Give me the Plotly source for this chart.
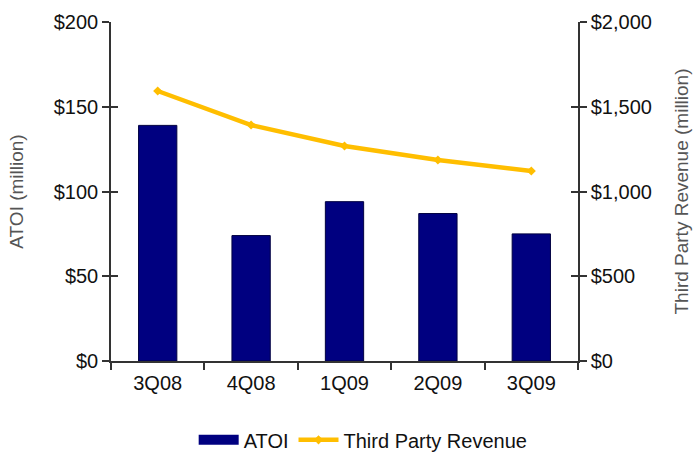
import plotly.graph_objects as go

quarters = ["3Q08", "4Q08", "1Q09", "2Q09", "3Q09"]
atoi = [139, 74, 94, 87, 75]
third_party_revenue = [1593, 1392, 1268, 1186, 1121]

navy = "#000080"
gold = "#FFBE00"
axis_col = "#333333"
font = dict(family="Liberation Sans, Arial, sans-serif", size=20, color="#111111")
title_font = dict(family="Liberation Sans, Arial, sans-serif", size=19, color="#555555")

fig = go.Figure()
fig.add_trace(go.Bar(
    x=quarters, y=atoi, name="ATOI", showlegend=False,
    marker=dict(color=navy, line=dict(color="#000040", width=1)),
    yaxis="y",
))
# wide rectangular legend key for the bars
fig.add_trace(go.Scatter(
    x=[None], y=[None], name="ATOI", mode="lines",
    line=dict(color=navy, width=13), yaxis="y",
))
fig.add_trace(go.Scatter(
    x=quarters, y=third_party_revenue, name="Third Party Revenue",
    mode="lines+markers",
    line=dict(color=gold, width=4.5),
    marker=dict(color=gold, size=7, symbol="diamond"),
    yaxis="y2",
))

common_y = dict(showgrid=False, zeroline=False, showline=True, linecolor=axis_col,
                linewidth=1.5, ticks="outside", ticklen=7, tickcolor=axis_col,
                tickwidth=1.5, tickfont=font, automargin=False)

fig.update_layout(
    width=695, height=453,
    margin=dict(l=111, r=117, t=22, b=92),
    paper_bgcolor="white", plot_bgcolor="white",
    font=font,
    bargap=0.59,
    showlegend=True,
    legend=dict(orientation="h", x=0.54, xanchor="center",
                yref="container", y=0.029, yanchor="middle",
                font=font, itemwidth=40, tracegroupgap=0),
    xaxis=dict(showgrid=False, showline=True, linecolor=axis_col, linewidth=1.5,
               ticks="outside", ticklen=7, tickcolor=axis_col, tickwidth=1.5,
               tickson="boundaries", tickfont=font, ticklabelstandoff=3,
               range=[-0.5, 4.5], automargin=False),
    yaxis=dict(range=[0, 200], dtick=50, tickprefix="$",
               title=dict(text="ATOI (million)", font=title_font, standoff=25),
               **common_y),
    yaxis2=dict(range=[0, 2000], dtick=500, tickprefix="$", tickformat=",",
                overlaying="y", side="right",
                title=dict(text="Third Party Revenue (million)",
                           font=title_font, standoff=24),
                **common_y),
    # inner halves of the crossing tick marks
    yaxis3=dict(range=[0, 200], dtick=50, overlaying="y", side="left",
                showgrid=False, zeroline=False, showline=False, ticks="inside",
                ticklen=7, tickcolor=axis_col, tickwidth=1.5, showticklabels=False),
    yaxis4=dict(range=[0, 2000], dtick=500, overlaying="y", side="right",
                showgrid=False, zeroline=False, showline=False, ticks="inside",
                ticklen=7, tickcolor=axis_col, tickwidth=1.5, showticklabels=False),
)

# invisible helper traces so the extra tick axes are drawn
fig.add_trace(go.Scatter(x=quarters, y=atoi, yaxis="y3", mode="markers",
                         marker=dict(opacity=0), showlegend=False, hoverinfo="skip"))
fig.add_trace(go.Scatter(x=quarters, y=third_party_revenue, yaxis="y4", mode="markers",
                         marker=dict(opacity=0), showlegend=False, hoverinfo="skip"))

fig.write_html("out.html")
